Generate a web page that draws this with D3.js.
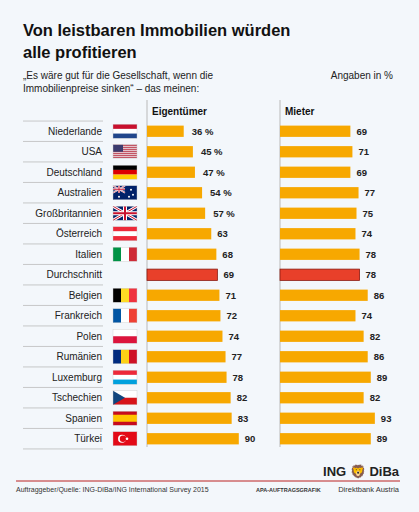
<!DOCTYPE html><html><head><meta charset="utf-8"><script src="https://cdn.jsdelivr.net/npm/d3@7"></script>
<style>body{margin:0;background:#f3f7fb}text{font-family:"Liberation Sans",Arial,sans-serif}</style></head><body>
<script>
const countries=["Niederlande","USA","Deutschland","Australien","Großbritannien","Österreich","Italien","Durchschnitt","Belgien","Frankreich","Polen","Rumänien","Luxemburg","Tschechien","Spanien","Türkei"];
const owners=[36,45,47,54,57,63,68,69,71,72,74,77,78,82,83,90];
const renters=[69,71,69,77,75,74,78,78,86,74,82,86,89,82,93,89];
const pctLabels=[true,true,true,true,true,false,false,false,false,false,false,false,false,false,false,false];
// flag stripes: [orientation, colors]
const flags=[["h",["#c8102e","#fff","#21468b"]],["us",[]],["h",["#000","#dd0000","#ffce00"]],["au",[]],["uk",[]],["h",["#ed2939","#fff","#ed2939"]],["v",["#009246","#fff","#ce2b37"]],null,["v",["#000","#fdda24","#ef3340"]],["v",["#0055a4","#fff","#ef4135"]],["h",["#fff","#dc143c"]],["v",["#002b7f","#fcd116","#ce1126"]],["h",["#ed2939","#fff","#00a1de"]],["cz",[]],["es",[]],["tr",[]]];
const W=419,H=512;
const svg=d3.select("body").append("svg").attr("width",W).attr("height",H);
const g=d3.select("svg");
g.append("rect").attr("width",W).attr("height",H).attr("fill","#f3f7fb");
g.append("text").attr("x",23).attr("y",36).attr("font-size",16.5).attr("font-weight","bold").attr("fill","#111").text("Von leistbaren Immobilien würden");
g.append("text").attr("x",23).attr("y",58).attr("font-size",16.5).attr("font-weight","bold").attr("fill","#111").text("alle profitieren");
g.append("text").attr("x",23).attr("y",79).attr("font-size",10).attr("fill","#222").text("„Es wäre gut für die Gesellschaft, wenn die");
g.append("text").attr("x",23).attr("y",92).attr("font-size",10).attr("fill","#222").text("Immobilienpreise sinken“ – das meinen:");
g.append("text").attr("x",393).attr("y",79).attr("font-size",10).attr("text-anchor","end").attr("fill","#222").text("Angaben in %");
const y=d3.scaleBand().domain(countries).range([121,449]).paddingInner(0.45).paddingOuter(0.225);
const x=d3.scaleLinear().domain([0,100]).range([0,102]);
const cols=[{x0:147,vals:owners,title:"Eigentümer",pct:true},{x0:280,vals:renters,title:"Mieter",pct:false}];
cols.forEach(c=>{
 g.append("line").attr("x1",c.x0).attr("x2",c.x0).attr("y1",100).attr("y2",447).attr("stroke","#aaa").attr("stroke-width",0.8);
 g.append("text").attr("x",c.x0+5).attr("y",115).attr("font-size",10).attr("font-weight","bold").attr("fill","#111").text(c.title);
 countries.forEach((k,i)=>{
  const avg=k==="Durchschnitt";
  g.append("rect").attr("x",c.x0).attr("y",y(k)).attr("width",x(c.vals[i])).attr("height",y.bandwidth())
   .attr("fill",avg?"#e8402a":"#f7a800").attr("stroke",avg?"#8a1a10":"none").attr("stroke-width",0.8);
  g.append("text").attr("x",c.x0+x(c.vals[i])+(c.pct&&pctLabels[i]?8:6)).attr("y",y(k)+y.bandwidth()/2+3.5)
   .attr("font-size",9.5).attr("font-weight","bold").attr("fill","#222").text(c.vals[i]+(c.pct&&pctLabels[i]?" %":""));
 });
});
countries.forEach((k,i)=>{
 const cy=y(k)+y.bandwidth()/2;
 g.append("text").attr("x",102).attr("y",cy+3.5).attr("font-size",10).attr("text-anchor","end").attr("fill","#222").text(k);
 g.append("line").attr("x1",23).attr("x2",103).attr("y1",cy+10.2).attr("y2",cy+10.2).attr("stroke","#bbb").attr("stroke-width",0.8);
 if(i===0) g.append("line").attr("x1",23).attr("x2",103).attr("y1",cy-10.2).attr("y2",cy-10.2).attr("stroke","#bbb").attr("stroke-width",0.8);
 const f=flags[i]; if(!f) return;
 const fx=113,fy=cy-7,fw=24,fh=14;
 const fg=g.append("g").attr("transform",`translate(${fx},${fy})`);
 const [t,cl]=f;
 if(t==="h"){cl.forEach((c,j)=>fg.append("rect").attr("y",j*fh/cl.length).attr("width",fw).attr("height",fh/cl.length).attr("fill",c));}
 else if(t==="v"){cl.forEach((c,j)=>fg.append("rect").attr("x",j*fw/cl.length).attr("width",fw/cl.length).attr("height",fh).attr("fill",c));}
 else if(t==="us"){for(let j=0;j<7;j++)fg.append("rect").attr("y",j*2).attr("width",fw).attr("height",1).attr("fill","#b22234");fg.append("rect").attr("width",10).attr("height",7).attr("fill","#3c3b6e");}
 else if(t==="au"||t==="uk"){fg.append("rect").attr("width",fw).attr("height",fh).attr("fill","#012169");
   const ug=t==="au"?fg.append("g").attr("transform","scale(0.5)"):fg;
   ug.append("path").attr("d",`M0,0L${fw},${fh}M${fw},0L0,${fh}`).attr("stroke","#fff").attr("stroke-width",3);
   ug.append("path").attr("d",`M0,0L${fw},${fh}M${fw},0L0,${fh}`).attr("stroke","#c8102e").attr("stroke-width",1);
   ug.append("path").attr("d",`M${fw/2},0V${fh}M0,${fh/2}H${fw}`).attr("stroke","#fff").attr("stroke-width",4);
   ug.append("path").attr("d",`M${fw/2},0V${fh}M0,${fh/2}H${fw}`).attr("stroke","#c8102e").attr("stroke-width",2);
   if(t==="au"){[[6,11],[18,4],[20,9],[16,11]].forEach(p=>fg.append("circle").attr("cx",p[0]).attr("cy",p[1]).attr("r",1).attr("fill","#fff"));}}
 else if(t==="cz"){fg.append("rect").attr("width",fw).attr("height",7).attr("fill","#fff");fg.append("rect").attr("y",7).attr("width",fw).attr("height",7).attr("fill","#d7141a");fg.append("path").attr("d",`M0,0L12,7L0,14Z`).attr("fill","#11457e");}
 else if(t==="es"){fg.append("rect").attr("width",fw).attr("height",fh).attr("fill","#c60b1e");fg.append("rect").attr("y",3.5).attr("width",fw).attr("height",7).attr("fill","#ffc400");}
 else if(t==="tr"){fg.append("rect").attr("width",fw).attr("height",fh).attr("fill","#e30a17");fg.append("circle").attr("cx",9).attr("cy",7).attr("r",4).attr("fill","#fff");fg.append("circle").attr("cx",10).attr("cy",7).attr("r",3.2).attr("fill","#e30a17");fg.append("circle").attr("cx",14).attr("cy",7).attr("r",1.3).attr("fill","#fff");}
 fg.append("rect").attr("width",fw).attr("height",fh).attr("fill","none").attr("stroke","#ccc").attr("stroke-width",0.4);
});
g.append("text").attr("x",399).attr("y",476).attr("font-size",13).attr("font-weight","bold").attr("font-family","Liberation Serif").attr("text-anchor","end").attr("fill","#222").text("ING ").append("tspan").attr("fill","#e8402a").text("🦁 ").append("tspan").attr("fill","#222").text("DiBa");
g.append("line").attr("x1",16).attr("x2",400).attr("y1",481).attr("y2",481).attr("stroke","#b22").attr("stroke-width",1);
g.append("text").attr("x",16).attr("y",492).attr("font-size",7).attr("fill","#333").text("Auftraggeber/Quelle: ING-DiBa/ING International Survey 2015");
g.append("text").attr("x",256).attr("y",492).attr("font-size",5.5).attr("font-weight","bold").attr("fill","#333").text("APA-AUFTRAGSGRAFIK");
g.append("text").attr("x",399).attr("y",492).attr("font-size",7.5).attr("text-anchor","end").attr("fill","#333").text("Direktbank Austria");
</script></body></html>
